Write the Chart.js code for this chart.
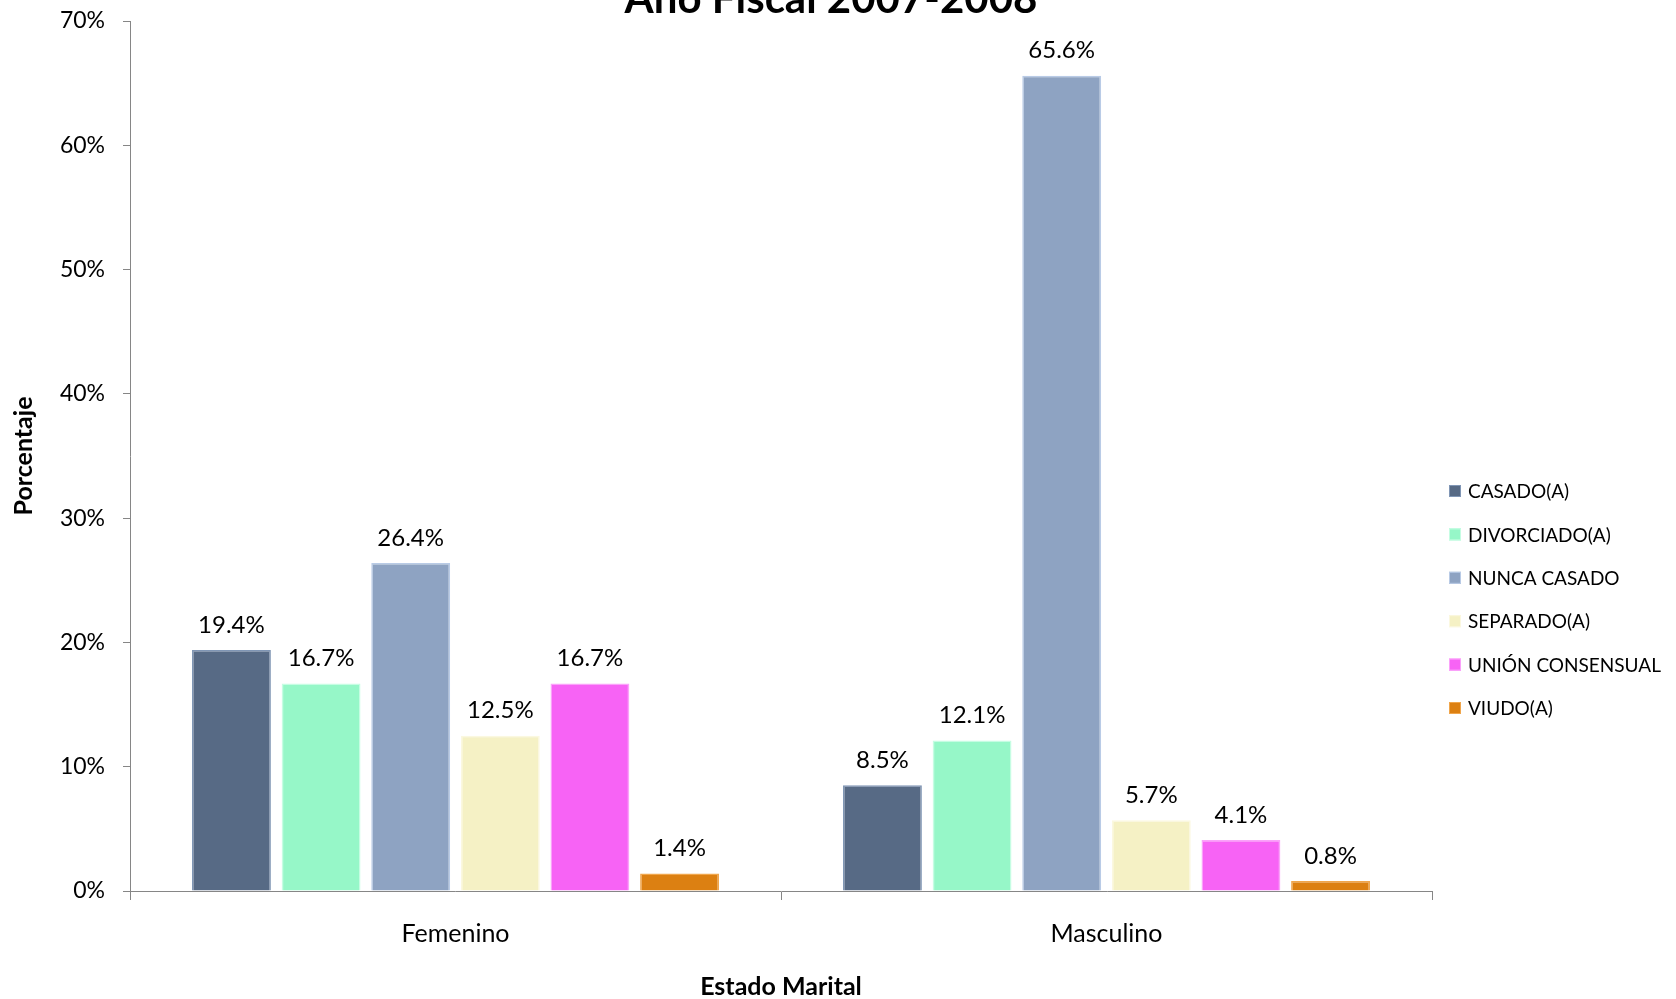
<!DOCTYPE html>
<html>
<head>
<meta charset="utf-8">
<script src="https://cdn.jsdelivr.net/npm/chart.js@4"></script>
<style>
  html, body { margin: 0; padding: 0; background: #fff; }
  #wrap { width: 1676px; height: 999px; }
</style>
</head>
<body>
<div id="wrap"><canvas id="myChart" width="1676" height="999"></canvas></div>
<script>
// categories and series
const categories = ["Femenino", "Masculino"];
const seriesNames = ["CASADO(A)", "DIVORCIADO(A)", "NUNCA CASADO", "SEPARADO(A)", "UNIÓN CONSENSUAL", "VIUDO(A)"];
const casado = [19.4, 8.5];
const divorciado = [16.7, 12.1];
const nuncaCasado = [26.4, 65.6];
const separado = [12.5, 5.7];
const union = [16.7, 4.1];
const viudo = [1.4, 0.8];
const seriesColors = ["#576a85", "#96f7c8", "#8ea3c2", "#f5f1c5", "#f763f5", "#dc8012"];
const seriesBorders = ["#8096b5", "#c6fde3", "#b9cbe6", "#fbf8e0", "#fba2fa", "#f0a64c"];

const FONT = "Lato, 'Open Sans', sans-serif";
const axisGray = "#868686";

const seriesValues = [casado, divorciado, nuncaCasado, separado, union, viudo];

// value labels above each bar
const barLabels = {
  id: "barLabels",
  afterDatasetsDraw(chart) {
    const ctx = chart.ctx;
    ctx.save();
    ctx.font = "24px " + FONT;
    ctx.fillStyle = "#000";
    ctx.textAlign = "center";
    ctx.textBaseline = "middle";
    chart.data.datasets.forEach((ds, i) => {
      chart.getDatasetMeta(i).data.forEach((bar, j) => {
        ctx.fillText(ds.data[j].toFixed(1) + "%", bar.x, bar.y - 25);
      });
    });
    ctx.restore();
  }
};

// title (clipped at the top) and legend on the right
const decor = {
  id: "decor",
  afterDraw(chart) {
    const ctx = chart.ctx;
    ctx.save();
    ctx.fillStyle = "#000";
    ctx.font = "bold 42px " + FONT;
    ctx.textAlign = "center";
    ctx.textBaseline = "alphabetic";
    ctx.fillText("Año Fiscal 2007-2008", 831, 13);

    ctx.font = "19px " + FONT;
    ctx.textAlign = "left";
    ctx.textBaseline = "middle";
    const top = 491, step = 43.4;
    chart.data.datasets.forEach((ds, i) => {
      const y = top + i * step;
      ctx.fillStyle = ds.backgroundColor;
      ctx.fillRect(1449, y - 6, 12, 12);
      ctx.strokeStyle = ds.borderColor;
      ctx.lineWidth = 1;
      ctx.strokeRect(1449.5, y - 5.5, 11, 11);
      ctx.fillStyle = "#000";
      ctx.fillText(ds.label, 1468, y + 1);
    });
    ctx.restore();
  }
};

const datasets = seriesNames.map((name, i) => ({
  label: name,
  data: seriesValues[i],
  backgroundColor: seriesColors[i],
  borderColor: seriesBorders[i],
  borderWidth: 1.5,
  categoryPercentage: 0.826,
  barPercentage: 0.88
}));

new Chart(document.getElementById("myChart"), {
  type: "bar",
  data: { labels: categories, datasets },
  plugins: [barLabels, decor],
  options: {
    responsive: false,
    animation: false,
    layout: { padding: { top: 21, right: 244, bottom: 0, left: 0 } },
    plugins: {
      legend: { display: false },
      title: { display: false },
      tooltip: { enabled: false }
    },
    scales: {
      x: {
        grid: { drawOnChartArea: false, offset: true, tickLength: 9, color: axisGray },
        border: { color: axisGray },
        ticks: { color: "#000", font: { family: FONT, size: 25 }, padding: 19 },
        title: { display: true, text: "Estado Marital", color: "#000",
                 font: { family: FONT, size: 25, weight: "bold" }, padding: { top: 0, bottom: -3 } },
        afterFit(scale) { scale.height = 108; }
      },
      y: {
        min: 0,
        max: 70,
        grid: { drawOnChartArea: false, tickLength: 7, color: axisGray },
        border: { color: axisGray },
        ticks: { stepSize: 10, color: "#000", font: { family: FONT, size: 23 }, padding: 18,
                 callback: (v) => v + "%" },
        title: { display: true, text: "Porcentaje", color: "#000",
                 font: { family: FONT, size: 25, weight: "bold" }, padding: { top: 9, bottom: 0 } },
        afterFit(scale) {
          scale.width = 130;
          scale.paddingTop = 0;
          scale.paddingBottom = 0;
        }
      }
    }
  }
});
</script>
</body>
</html>
